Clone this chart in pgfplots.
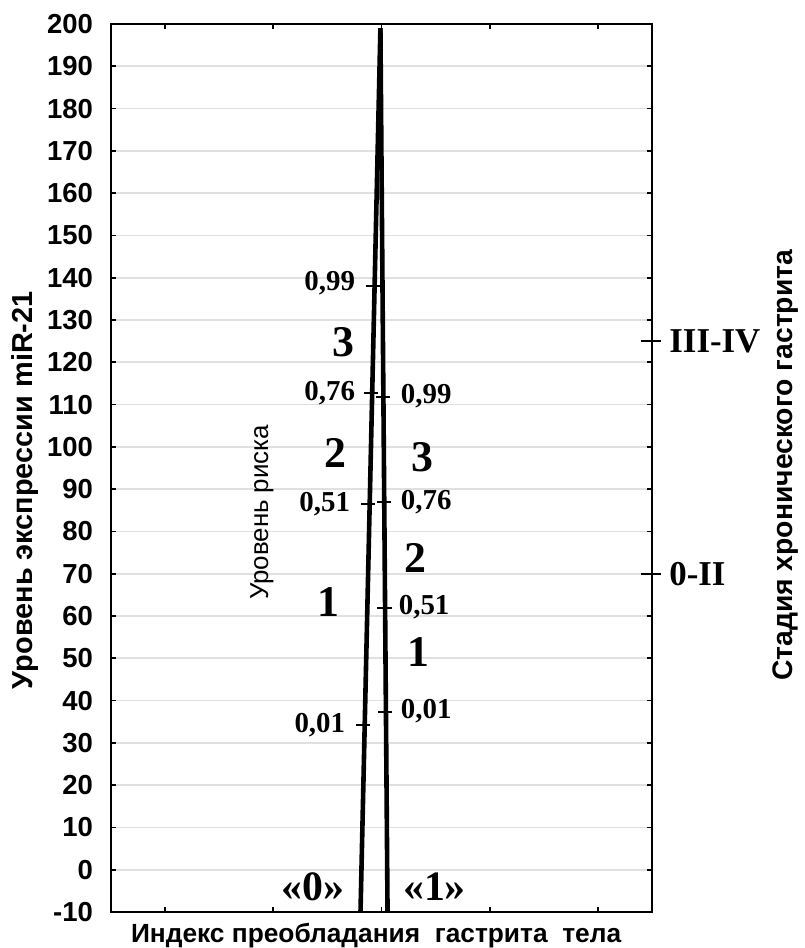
\documentclass[border=0pt]{standalone}
\usepackage{fontspec}
\setmainfont{Liberation Sans}
\newfontfamily\tnr{Liberation Serif}
\usepackage{pgfplots}
\pgfplotsset{compat=1.18}
\begin{document}
\begin{tikzpicture}
\begin{axis}[
  scale only axis, width=270.5bp, height=444bp,
  xmin=0, xmax=5, ymin=-10, ymax=200,
  xtick={0.5,1.5,2.5,3.5,4.5}, xticklabels={},
  ytick={-10,0,...,200},
  tick align=inside, major tick length=2.5bp,
  tick pos=both, yticklabel pos=left,
  ymajorgrids, major grid style={color=black!12, line width=0.8bp},
  axis line style={line width=0.9bp},
  tick style={line width=0.9bp, black},
  clip=false,
  /pgf/number format/assume math mode=true,
  yticklabel style={font=\fontsize{13.8}{16}\selectfont\bfseries, xshift=-5.5bp},
]
\coordinate (sw) at (rel axis cs:0,0);
% lines
\addplot[black, line width=2.3bp, no marks] coordinates {(2.306,-10) (2.49,199)};
\addplot[black, line width=2.3bp, no marks] coordinates {(2.556,-10) (2.49,199)};
% ticks on left line
\addplot[black, line width=0.8bp, no marks] coordinates {(2.356,138.1) (2.486,138.1)};
\addplot[black, line width=0.8bp, no marks] coordinates {(2.334,112.8) (2.464,112.8)};
\addplot[black, line width=0.8bp, no marks] coordinates {(2.311,86.5) (2.441,86.5)};
\addplot[black, line width=0.8bp, no marks] coordinates {(2.265,34.2) (2.395,34.2)};
% ticks on right line
\addplot[black, line width=0.8bp, no marks] coordinates {(2.448,111.8) (2.578,111.8)};
\addplot[black, line width=0.8bp, no marks] coordinates {(2.455,87.0) (2.585,87.0)};
\addplot[black, line width=0.8bp, no marks] coordinates {(2.463,61.9) (2.593,61.9)};
\addplot[black, line width=0.8bp, no marks] coordinates {(2.471,37.3) (2.601,37.3)};
% right axis stage ticks
\addplot[black, line width=0.9bp, no marks] coordinates {(4.9,125) (5.08,125)};
\addplot[black, line width=0.9bp, no marks] coordinates {(4.9,70) (5.08,70)};
% small labels
\begin{scope}[every node/.style={font=\tnr\bfseries\fontsize{14.5}{16}\selectfont, inner sep=0pt}]
\node[anchor=east] at (2.259,138.7) {0,99};
\node[anchor=east] at (2.259,112.8) {0,76};
\node[anchor=east] at (2.213,86.5) {0,51};
\node[anchor=east] at (2.167,34.2) {0,01};
\node[anchor=west] at (2.676,112.1) {0,99};
\node[anchor=west] at (2.676,87.0) {0,76};
\node[anchor=west] at (2.657,62.2) {0,51};
\node[anchor=west] at (2.676,37.4) {0,01};
\end{scope}
% big numbers
\begin{scope}[every node/.style={font=\tnr\bfseries\fontsize{22}{25}\selectfont, inner sep=0pt}]
\node at (2.15,124.8) {3};
\node at (2.07,98.5) {2};
\node at (2.01,63.3) {1};
\node at (2.88,97.6) {3};
\node at (2.81,73.7) {2};
\node at (2.84,51.5) {1};
\end{scope}
\node[font=\tnr\bfseries\fontsize{21}{24}\selectfont, inner sep=0pt] at (1.87,-4.1) {«0»};
\node[font=\tnr\bfseries\fontsize{21}{24}\selectfont, inner sep=0pt] at (2.99,-4.1) {«1»};
\node[font=\tnr\bfseries\fontsize{17.5}{20}\selectfont, inner sep=0pt, anchor=west] at (5.157,125) {III-IV};
\node[font=\tnr\bfseries\fontsize{17.5}{20}\selectfont, inner sep=0pt, anchor=west] at (5.157,70) {0-II};
% axis titles
\node[font=\bfseries\fontsize{13.2}{15}\selectfont] at (rel axis cs:0.49,-0.027) {Индекс преобладания\ \ гастрита\ \ тела};
\node[rotate=90, font=\bfseries\fontsize{14.5}{16}\selectfont] at (rel axis cs:-0.159,0.475) {Уровень экспрессии miR-21};
\node[rotate=90, font=\bfseries\fontsize{14.2}{16}\selectfont] at (rel axis cs:1.246,0.503) {Стадия хронического гастрита};
\node[rotate=90, font=\fontsize{13}{15}\selectfont] at (rel axis cs:0.279,0.45) {Уровень риска};
\end{axis}
\pgfresetboundingbox
\path[use as bounding box] ([xshift=-55.5bp,yshift=-18bp]sw) rectangle ++(402.5bp,474bp);
\end{tikzpicture}
\end{document}
